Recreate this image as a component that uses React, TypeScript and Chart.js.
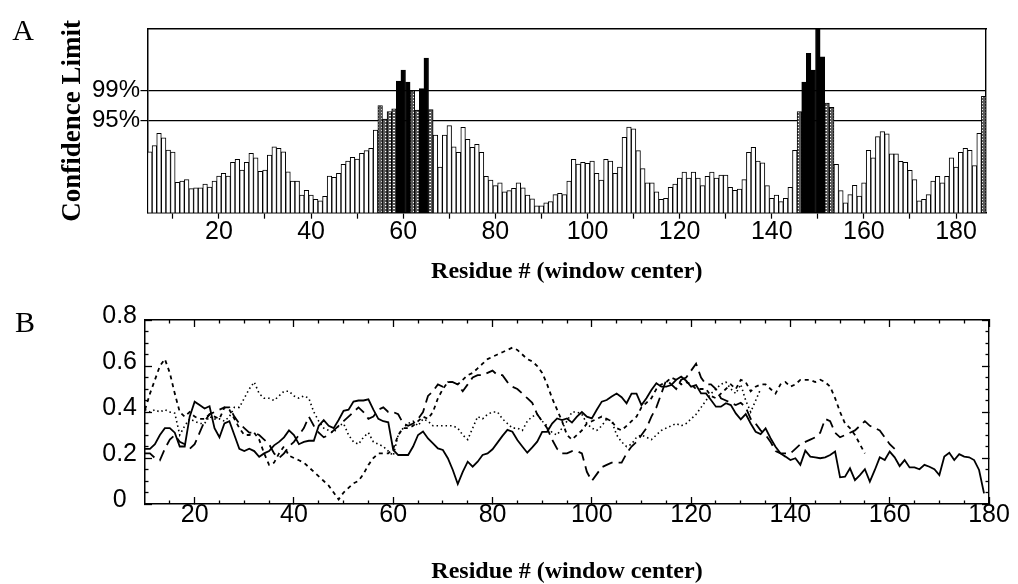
import React, { useEffect, useRef } from 'react';
import { Chart, registerables } from 'chart.js';

Chart.register(...registerables);

const FONT_SANS = '"Liberation Sans", Arial, Helvetica, sans-serif';
const FONT_SERIF = '"Liberation Serif", "Times New Roman", Times, serif';

// ---------------- Panel A data ----------------
const firstResidueA = 5;
const confidenceScores = [
  33.2, 36.5, 43.2, 40.8, 34.1, 33.0, 16.5, 17.2, 18.0, 13.1,
  13.6, 13.6, 15.6, 14.0, 17.2, 20.0, 21.4, 20.0, 27.4, 29.0,
  23.2, 27.4, 32.3, 29.9, 22.5, 23.2, 31.4, 35.8, 35.0, 33.2,
  22.3, 17.2, 17.2, 9.6, 12.2, 9.6, 7.3, 6.4, 8.9, 20.0,
  19.2, 21.4, 26.3, 28.1, 30.1, 29.2, 32.3, 33.8, 35.0, 45.0,
  58.3, 51.0, 55.0, 56.6, 71.7, 77.7, 71.1, 66.4, 55.9, 67.5,
  84.2, 56.1, 42.3, 24.9, 42.3, 47.4, 35.8, 32.8, 46.5, 39.9,
  35.6, 37.2, 32.8, 19.8, 17.8, 14.7, 16.3, 11.3, 12.0, 13.2,
  16.2, 13.6, 9.6, 7.6, 3.8, 3.8, 5.4, 6.0, 9.8, 10.5,
  9.8, 17.2, 29.0, 26.5, 27.4, 26.9, 28.1, 21.4, 17.8, 29.0,
  28.1, 21.4, 24.9, 41.0, 46.6, 45.7, 33.8, 24.0, 16.2, 16.2,
  11.4, 7.3, 7.8, 13.8, 15.6, 18.9, 22.1, 18.9, 22.1, 18.9,
  14.7, 19.8, 22.1, 18.9, 20.5, 20.5, 13.8, 12.2, 12.9, 18.0,
  32.8, 35.6, 28.1, 27.2, 14.7, 7.8, 9.6, 6.0, 7.8, 13.8,
  33.9, 55.0, 71.1, 86.8, 77.7, 100, 84.9, 59.7, 57.4, 26.3,
  12.0, 5.4, 9.8, 14.9, 9.1, 16.3, 33.9, 29.9, 41.4, 44.1,
  43.0, 32.1, 32.1, 27.9, 27.4, 23.0, 18.0, 6.4, 7.3, 9.8,
  17.2, 19.8, 16.3, 19.8, 29.9, 24.9, 32.8, 35.0, 33.9, 25.6,
  43.2, 63.3,
];
const limit95 = 50.1;
const limit99 = 66.6;
const xTicksA = [10, 20, 30, 40, 50, 60, 70, 80, 90, 100, 110, 120, 130, 140, 150, 160, 170, 180];
const xLabelsA = [20, 40, 60, 80, 100, 120, 140, 160, 180];

// ---------------- Panel B data ----------------
const solidStart = 10;
const solidValues = [
  0.24, 0.24, 0.26, 0.30, 0.33, 0.33, 0.31, 0.25, 0.25, 0.38,
  0.445, 0.43, 0.415, 0.425, 0.33, 0.29, 0.35, 0.36, 0.30, 0.24,
  0.23, 0.24, 0.23, 0.205, 0.22, 0.23, 0.255, 0.27, 0.29, 0.32,
  0.30, 0.26, 0.27, 0.275, 0.275, 0.34, 0.365, 0.34, 0.33, 0.365,
  0.405, 0.41, 0.445, 0.45, 0.45, 0.455, 0.41, 0.37, 0.36, 0.355,
  0.235, 0.213, 0.213, 0.213, 0.25, 0.30, 0.315, 0.285, 0.264, 0.242,
  0.235, 0.199, 0.148, 0.087, 0.14, 0.184, 0.162, 0.184, 0.213, 0.22,
  0.238, 0.267, 0.296, 0.322, 0.314, 0.278, 0.25, 0.223, 0.246, 0.271,
  0.314, 0.314, 0.35, 0.372, 0.365, 0.372, 0.354, 0.38, 0.40, 0.38,
  0.372, 0.41, 0.445, 0.452, 0.467, 0.48, 0.464, 0.438, 0.48, 0.48,
  0.43, 0.46, 0.496, 0.525, 0.51, 0.51, 0.517, 0.54, 0.554, 0.536,
  0.51, 0.517, 0.481, 0.481, 0.452, 0.423, 0.423, 0.438, 0.43, 0.394,
  0.368, 0.391, 0.35, 0.314, 0.304, 0.329, 0.286, 0.249, 0.22, 0.206,
  0.191, 0.199, 0.17, 0.232, 0.206, 0.203, 0.199, 0.203, 0.213, 0.228,
  0.116, 0.119, 0.155, 0.104, 0.126, 0.151, 0.097, 0.148, 0.203, 0.191,
  0.228, 0.203, 0.165, 0.191, 0.159, 0.159, 0.151, 0.17, 0.162, 0.151,
  0.126, 0.206, 0.223, 0.191, 0.217, 0.206, 0.203, 0.191, 0.148, 0.046,
];
const longDashStart = 10;
const longDashValues = [
  0.22, 0.22, 0.20, 0.19, 0.24, 0.28, 0.30, 0.27, 0.26, 0.24,
  0.26, 0.31, 0.36, 0.39, 0.40, 0.41, 0.42, 0.42, 0.38, 0.35,
  0.33, 0.31, 0.31, 0.30, 0.28, 0.26, 0.22, 0.20, 0.22, 0.25,
  0.27, 0.30, 0.33, 0.38, 0.34, 0.31, 0.29, 0.30, 0.32, 0.34,
  0.36, 0.38, 0.40, 0.42, 0.40, 0.37, 0.38, 0.41, 0.42, 0.40,
  0.40, 0.39, 0.35, 0.34, 0.35, 0.37, 0.40, 0.47, 0.49, 0.52,
  0.51, 0.53, 0.53, 0.52, 0.49, 0.52, 0.55, 0.56, 0.56, 0.57,
  0.58, 0.56, 0.56, 0.53, 0.51, 0.50, 0.48, 0.46, 0.44, 0.39,
  0.36, 0.33, 0.28, 0.24, 0.22, 0.22, 0.23, 0.23, 0.22, 0.14,
  0.10, 0.13, 0.16, 0.17, 0.18, 0.18, 0.18, 0.22, 0.25, 0.27,
  0.30, 0.33, 0.38, 0.42, 0.48, 0.54, 0.52, 0.50, 0.54, 0.55,
  0.58, 0.61, 0.55, 0.52, 0.52, 0.50, 0.46, 0.45, 0.44, 0.43,
  0.44, 0.42, 0.37, 0.35, 0.32, 0.30, 0.27, 0.23, 0.22, 0.22,
  0.22, 0.24, 0.26, 0.27, 0.28, 0.29, 0.31, 0.37, 0.36, 0.31,
  0.29, 0.30, 0.31, 0.32, 0.34, 0.36, 0.34, 0.33, 0.32, 0.29,
  0.26, 0.24,
];
const shortDashStart = 10;
const shortDashValues = [
  0.41, 0.48, 0.54, 0.60, 0.63, 0.57, 0.48, 0.40, 0.38, 0.40,
  0.38, 0.37, 0.37, 0.39, 0.38, 0.37, 0.42, 0.41, 0.37, 0.33,
  0.30, 0.30, 0.31, 0.28, 0.22, 0.17, 0.18, 0.22, 0.25, 0.21,
  0.20, 0.19, 0.18, 0.16, 0.14, 0.12, 0.10, 0.08, 0.05, 0.02,
  0.05, 0.07, 0.09, 0.10, 0.13, 0.17, 0.20, 0.22, 0.22, 0.22,
  0.24, 0.30, 0.33, 0.33, 0.34, 0.36, 0.38, 0.37, 0.40, 0.46,
  0.50, 0.53, 0.53, 0.52, 0.54, 0.56, 0.57, 0.59, 0.61, 0.63,
  0.64, 0.65, 0.66, 0.67, 0.68, 0.67, 0.65, 0.63, 0.62, 0.60,
  0.57, 0.52, 0.46, 0.41, 0.36, 0.30, 0.28, 0.30, 0.32, 0.35,
  0.36, 0.37, 0.38, 0.37, 0.36, 0.33, 0.32, 0.34, 0.36, 0.38,
  0.42, 0.44, 0.46, 0.50, 0.52, 0.53, 0.55, 0.54, 0.52, 0.53,
  0.52, 0.50, 0.50, 0.50, 0.47, 0.46, 0.48, 0.50, 0.52, 0.50,
  0.54, 0.53, 0.49, 0.51, 0.52, 0.52, 0.50, 0.48, 0.52, 0.53,
  0.51, 0.52, 0.54, 0.54, 0.54, 0.53, 0.54, 0.53, 0.51, 0.46,
  0.40, 0.35, 0.33, 0.30, 0.26, 0.22,
];
const dottedStart = 10;
const dottedValues = [
  0.41, 0.40, 0.41, 0.40, 0.41, 0.40, 0.395, 0.30, 0.34, 0.37,
  0.36, 0.35, 0.35, 0.38, 0.37, 0.37, 0.36, 0.38, 0.42, 0.42,
  0.46, 0.50, 0.53, 0.48, 0.46, 0.46, 0.45, 0.47, 0.49, 0.49,
  0.47, 0.46, 0.47, 0.46, 0.40, 0.36, 0.33, 0.32, 0.31, 0.34,
  0.35, 0.30, 0.27, 0.26, 0.29, 0.31, 0.27, 0.26, 0.25, 0.23,
  0.21, 0.30, 0.33, 0.35, 0.36, 0.34, 0.37, 0.36, 0.34, 0.34,
  0.34, 0.34, 0.34, 0.33, 0.30, 0.28, 0.33, 0.38, 0.37, 0.39,
  0.40, 0.40, 0.37, 0.35, 0.33, 0.33, 0.32, 0.36, 0.38, 0.39,
  0.36, 0.34, 0.31, 0.30, 0.33, 0.36, 0.40, 0.40, 0.39, 0.35,
  0.33, 0.32, 0.34, 0.37, 0.36, 0.30, 0.27, 0.25, 0.26, 0.29,
  0.30, 0.29, 0.28, 0.30, 0.32, 0.33, 0.34, 0.35, 0.34, 0.35,
  0.37, 0.39, 0.42, 0.45, 0.48, 0.50, 0.52, 0.53, 0.50, 0.48,
  0.52, 0.45, 0.40, 0.45, 0.50,
];
const xMajorB = [20, 40, 60, 80, 100, 120, 140, 160, 180];
const xMinorB = [15, 25, 30, 35, 45, 50, 55, 65, 70, 75, 85, 90, 95, 105, 110, 115, 125, 130, 135, 145, 150, 155, 165, 170, 175];
const yMajorB = [0, 0.2, 0.4, 0.6, 0.8];
const yMinorB = [0.05, 0.1, 0.15, 0.25, 0.3, 0.35, 0.45, 0.5, 0.55, 0.65, 0.7, 0.75];

// ---------------- helpers ----------------
function fixedTicks(values: number[]) {
  return (scale: any) => {
    scale.ticks = values.map((value) => ({ value }));
  };
}

function frameAxis(position: string, min: number, max: number, tickValues: number[], tickLength: number, showBorder: boolean, weight: number) {
  return {
    type: 'linear',
    position,
    min,
    max,
    weight,
    offset: false,
    afterBuildTicks: fixedTicks(tickValues),
    afterFit: (s: any) => {
      if (s.isHorizontal()) s.height = 0;
      else s.width = 0;
    },
    ticks: { display: false, autoSkip: false },
    grid: {
      display: true,
      drawOnChartArea: false,
      drawTicks: tickValues.length > 0,
      tickLength,
      tickColor: '#000',
      tickWidth: 1.3,
      offset: false,
    },
    border: { display: showBorder, color: '#000', width: 1.4 },
  };
}

function letterPlugin(text: string, x: number, y: number) {
  return {
    id: 'panelLetter' + text,
    afterDraw(chart: any) {
      const ctx = chart.ctx;
      ctx.save();
      ctx.font = `30px ${FONT_SERIF}`;
      ctx.fillStyle = '#000';
      ctx.textAlign = 'center';
      ctx.textBaseline = 'middle';
      ctx.fillText(text, x, y);
      ctx.restore();
    },
  };
}

function makePattern(): any {
  const pc = document.createElement('canvas');
  pc.width = 4;
  pc.height = 3;
  const g = pc.getContext('2d')!;
  g.fillStyle = '#5c5c5c';
  g.fillRect(0, 0, 4, 3);
  g.fillStyle = '#ffffff';
  g.fillRect(1, 1, 2, 1);
  return g.createPattern(pc, 'repeat');
}

function configA(pattern: any): any {
  const barData = confidenceScores.map((v, i) => ({ x: firstResidueA + i, y: v }));
  return {
    type: 'bar',
    data: {
      datasets: [
        {
          data: barData,
          backgroundColor: (ctx: any) => {
            const v = ctx.raw ? ctx.raw.y : 0;
            if (v >= limit99) return '#000';
            if (v >= limit95) return pattern;
            return '#fff';
          },
          borderColor: '#000',
          borderWidth: 1,
          barPercentage: 1,
          categoryPercentage: 1,
        },
      ],
    },
    options: {
      animation: false,
      responsive: true,
      maintainAspectRatio: false,
      layout: { padding: { top: 29, right: 32, left: 0, bottom: 0 } },
      plugins: { legend: { display: false }, tooltip: { enabled: false } },
      scales: {
        x: {
          type: 'linear',
          position: 'bottom',
          min: 4.5,
          max: 186.5,
          offset: false,
          weight: 0,
          afterBuildTicks: fixedTicks(xTicksA),
          afterFit: (s: any) => {
            s.height = 77.3;
          },
          ticks: {
            autoSkip: false,
            maxRotation: 0,
            minRotation: 0,
            color: '#000',
            padding: -2,
            font: { family: FONT_SANS, size: 25 },
            callback: (v: any) => (xLabelsA.includes(v) ? String(v) : ''),
          },
          grid: { drawOnChartArea: false, offset: false, tickLength: 6, tickColor: '#000', tickWidth: 1.2 },
          border: { color: '#000', width: 1.5 },
          title: {
            display: true,
            text: 'Residue # (window center)',
            color: '#000',
            font: { family: FONT_SERIF, size: 24, weight: 'bold', lineHeight: 1 },
            padding: { top: 0, bottom: 6 },
          },
        },
        y: {
          type: 'linear',
          position: 'left',
          min: 0,
          max: 100,
          weight: 0,
          afterBuildTicks: fixedTicks([limit95, limit99]),
          afterFit: (s: any) => {
            s.width = 147.5;
          },
          ticks: {
            autoSkip: false,
            color: '#000',
            padding: 0.5,
            font: { family: FONT_SANS, size: 24 },
            callback: (v: any) => (v === limit95 ? '95%' : v === limit99 ? '99%' : ''),
          },
          grid: { drawOnChartArea: true, color: '#000', lineWidth: 1.2, tickLength: 7, tickColor: '#000', tickWidth: 1.2 },
          border: { color: '#000', width: 1.5 },
          title: {
            display: true,
            text: 'Confidence Limit',
            color: '#000',
            font: { family: FONT_SERIF, size: 27, weight: 'bold', lineHeight: 1.2 },
            padding: { top: 57, bottom: 0 },
          },
        },
        xTop: frameAxis('top', 4.5, 186.5, [], 0, true, 0),
        yRight: frameAxis('right', 0, 100, [], 0, true, 0),
      },
    },
    plugins: [letterPlugin('A', 23, 32)],
  };
}

function toPoints(start: number, values: number[]) {
  return values.map((y, i) => ({ x: start + i, y }));
}

function configB(): any {
  const common = { borderColor: '#000', borderWidth: 1.8, pointRadius: 0, tension: 0, fill: false };
  return {
    type: 'line',
    data: {
      datasets: [
        { label: 'solid', data: toPoints(solidStart, solidValues), ...common, borderDash: [] },
        { label: 'long dash', data: toPoints(longDashStart, longDashValues), ...common, borderDash: [11, 6] },
        { label: 'short dash', data: toPoints(shortDashStart, shortDashValues), ...common, borderDash: [4, 4] },
        { label: 'dotted', data: toPoints(dottedStart, dottedValues), ...common, borderWidth: 1.6, borderDash: [1.5, 3] },
      ],
    },
    options: {
      animation: false,
      responsive: true,
      maintainAspectRatio: false,
      layout: { padding: { top: 30, right: 29, left: 0, bottom: 0 } },
      plugins: { legend: { display: false }, tooltip: { enabled: false } },
      scales: {
        x: {
          type: 'linear',
          position: 'bottom',
          min: 10,
          max: 180,
          weight: 0,
          offset: false,
          afterBuildTicks: fixedTicks(xMajorB),
          afterFit: (s: any) => {
            s.height = 80;
          },
          ticks: {
            autoSkip: false,
            maxRotation: 0,
            minRotation: 0,
            color: '#000',
            padding: 3,
            font: { family: FONT_SANS, size: 25 },
            callback: (v: any) => String(v),
          },
          grid: { drawOnChartArea: false, tickLength: -7, tickColor: '#000', tickWidth: 1.3 },
          border: { color: '#000', width: 1.5 },
          title: {
            display: true,
            text: 'Residue # (window center)',
            color: '#000',
            font: { family: FONT_SERIF, size: 24, weight: 'bold', lineHeight: 1 },
            padding: { top: 0, bottom: 0 },
          },
        },
        xMinor: frameAxis('bottom', 10, 180, xMinorB, -3.5, false, -1),
        xTop: frameAxis('top', 10, 180, xMajorB, -7, true, 0),
        xTopMinor: frameAxis('top', 10, 180, xMinorB, -3.5, false, -1),
        y: {
          type: 'linear',
          position: 'left',
          min: 0,
          max: 0.8,
          weight: 0,
          afterBuildTicks: fixedTicks(yMajorB),
          afterFit: (s: any) => {
            s.width = 145;
          },
          ticks: {
            autoSkip: false,
            color: '#000',
            crossAlign: 'center',
            padding: 15,
            labelOffset: -4,
            font: { family: FONT_SANS, size: 25 },
            callback: (v: any) => (v === 0 ? '0' : Number(v).toFixed(1)),
          },
          grid: { drawOnChartArea: false, tickLength: -7, tickColor: '#000', tickWidth: 1.3 },
          border: { color: '#000', width: 1.5 },
        },
        yMinor: frameAxis('left', 0, 0.8, yMinorB, -3.5, false, -1),
        yRight: frameAxis('right', 0, 0.8, yMajorB, -7, true, 0),
        yRightMinor: frameAxis('right', 0, 0.8, yMinorB, -3.5, false, -1),
      },
    },
    plugins: [letterPlugin('B', 25, 34)],
  };
}

export default function App() {
  const refA = useRef<HTMLCanvasElement>(null);
  const refB = useRef<HTMLCanvasElement>(null);

  useEffect(() => {
    const pattern = makePattern();
    const chartA = new Chart(refA.current as HTMLCanvasElement, configA(pattern));
    const chartB = new Chart(refB.current as HTMLCanvasElement, configB());
    return () => {
      chartA.destroy();
      chartB.destroy();
    };
  }, []);

  return (
    <div style={{ position: 'absolute', left: 0, top: 0, width: 1018, height: 584, background: '#fff', overflow: 'hidden' }}>
      <div style={{ position: 'absolute', left: 0, top: 0, width: 1018, height: 290 }}>
        <canvas ref={refA} />
      </div>
      <div style={{ position: 'absolute', left: 0, top: 290, width: 1018, height: 294 }}>
        <canvas ref={refB} />
      </div>
    </div>
  );
}
